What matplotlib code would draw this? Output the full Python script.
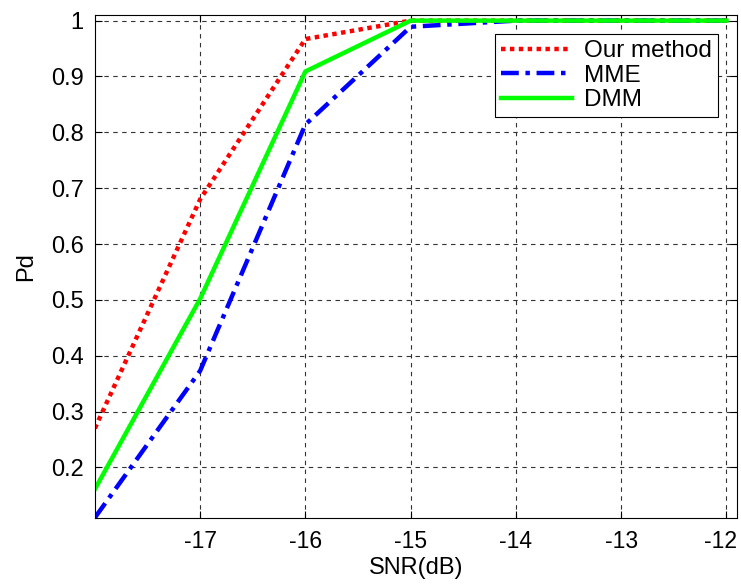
import matplotlib
matplotlib.use('Agg')
import matplotlib.pyplot as plt
import matplotlib.transforms as mtransforms

plt.rcParams['font.family'] = ['Liberation Sans', 'DejaVu Sans']
plt.rcParams['axes.unicode_minus'] = False

snr = [-18, -17, -16, -15, -14, -13, -12]
pd_ours = [0.27, 0.68, 0.967, 1.0, 1.0, 1.0, 1.0]
pd_mme = [0.11, 0.373, 0.814, 0.989, 1.0, 1.0, 1.0]
pd_dmm = [0.161, 0.502, 0.909, 1.0, 1.0, 1.0, 1.0]

xticks = [-17, -16, -15, -14, -13, -12]
yticks = [0.2, 0.3, 0.4, 0.5, 0.6, 0.7, 0.8, 0.9, 1.0]
yticklabels = ['0.2', '0.3', '0.4', '0.5', '0.6', '0.7', '0.8', '0.9', '1']

fig = plt.figure(figsize=(7.41, 5.87), dpi=100)
ax = fig.add_axes([0.128, 0.118, 0.8666, 0.8564])

ax.plot(snr, pd_ours, color='#ff0000', linestyle=(0, (1, 1)), lw=3.2, label='Our method')
ax.plot(snr, pd_mme, color='#0000ff', linestyle=(0, (4, 1.5, 1, 1.5)), lw=3.2, label='MME')
ax.plot(snr, pd_dmm, color='#00ff00', linestyle='-', lw=3.2, label='DMM')

ax.set_xlim(-18, -11.9)
ax.set_ylim(0.11, 1.01)
ax.set_xticks(xticks)
ax.set_yticks(yticks)
ax.set_yticklabels(yticklabels)
ax.grid(True, color='0.2', linestyle=(0, (4, 4)), lw=0.8)
ax.tick_params(direction='in', top=True, right=True, labelsize=17, length=5)
ax.tick_params(axis='x', pad=9, labelsize=16.5)
ax.tick_params(axis='y', pad=8)
ax.set_xlabel('SNR(dB)', fontsize=17, labelpad=3)
ax.set_ylabel('Pd', fontsize=17, labelpad=10)

# nudge the last x label so it stays inside the figure
last = ax.get_xticklabels()[-1]
last.set_transform(last.get_transform() + mtransforms.ScaledTranslation(-6 / 100, 0, fig.dpi_scale_trans))

leg = ax.legend(loc='upper right', bbox_to_anchor=(0.97, 0.962), fontsize=17.5,
                fancybox=False, edgecolor='black', framealpha=1,
                handlelength=2.9, handletextpad=0.5, borderaxespad=0,
                labelspacing=0.1, borderpad=0.25)
leg.get_frame().set_linewidth(0.8)

plt.savefig('out.png', dpi=100)
plt.close()
